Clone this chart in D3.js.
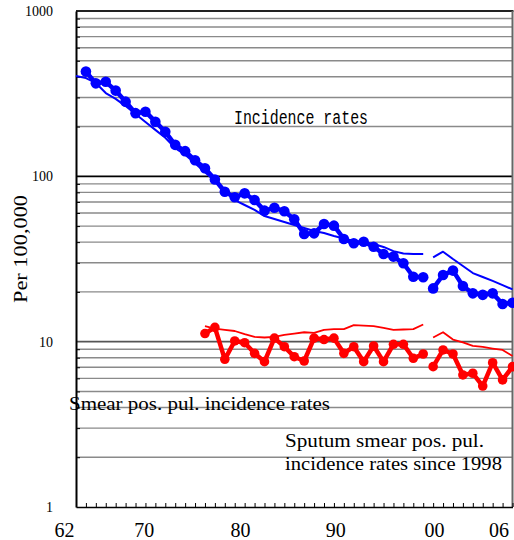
<!DOCTYPE html>
<html><head><meta charset="utf-8">
<script src="https://cdn.jsdelivr.net/npm/d3@7"></script>
<style>body{margin:0;background:#fff}svg{display:block}</style>
</head><body><svg id="c" width="514" height="540"></svg>
<script>
// ---- data ----
const incidenceYears = d3.range(1963, 1998);
const incidence = [430, 365, 373, 330, 283, 241, 246, 214, 186, 155, 142, 125, 112, 95.7, 80.7, 74.7, 78.9, 71.9, 62, 64.5, 61.5, 55, 44.8, 45.2, 51.5, 50.3, 41.8, 39.4, 40.2, 37.5, 33.9, 32.7, 29.8, 24.7, 24.5];
const incidenceTrendYears = d3.range(1962, 1998);
const incidenceTrend = [404, 393, 367, 319, 294, 266, 238, 213, 191, 171, 148, 135, 120, 106, 93.7, 82.7, 71.9, 67.1, 62.6, 57.5, 55.2, 53, 50.8, 48.7, 46.7, 45.4, 43.6, 42.1, 40.6, 39.8, 39, 37.4, 35.3, 34.1, 33.9, 33.9];
const newYears = d3.range(1998, 2007);
const incidenceNew = [21.0, 25.3, 26.9, 21.7, 19.6, 19.2, 19.6, 16.9, 17.2];
const incidenceTrendNew = [32.4, 35, 31.6, 28.7, 26, 24.6, 23.3, 22, 20.7];
const smearYears = d3.range(1975, 1998);
const smear = [11.2, 12.2, 7.82, 10.1, 9.86, 8.5, 7.57, 10.5, 9.32, 8.11, 7.64, 10.5, 10.3, 10.5, 8.5, 9.32, 7.57, 9.42, 7.57, 9.64, 9.64, 7.93, 8.42];
const smearTrend = [12.4, 12.0, 11.8, 11.6, 11.1, 10.7, 10.6, 10.7, 11.0, 11.2, 11.4, 11.3, 11.8, 11.9, 11.9, 12.6, 12.5, 12.4, 12.1, 11.8, 11.85, 11.9, 12.7];
const smearNew = [7.06, 8.91, 8.42, 6.29, 6.44, 5.39, 7.46, 5.87, 7.06];
const smearTrendNew = [10.6, 11.4, 10.3, 9.89, 9.42, 9.29, 9.09, 8.91, 8.19];
const yLabelValues = [1, 10, 100, 1000];
const xLabelYears = [1962, 1970, 1980, 1990, 2000, 2006];
const xLabelText = ["62", "70", "80", "90", "00", "06"];
const xLabelNudge = [-12, -11.5, -14.5, -18.5, -19, -14];

// ---- layout ----
const L = 76, R = 512.5, T = 11, B = 507;
const svg = d3.select("#c");
const x = d3.scaleLinear().domain([1962, 2006]).range([L, R]);
const y = d3.scaleLog().domain([1, 1000]).range([B, T]);

// gridlines
const minorVals = [];
[1, 10, 100].forEach(d => { for (let k = 2; k <= 9; k++) minorVals.push(k * d); });
svg.append("g").selectAll("line").data(minorVals).join("line")
  .attr("x1", L).attr("x2", R).attr("y1", d => y(d)).attr("y2", d => y(d))
  .attr("stroke", "#8a8a8a").attr("stroke-width", 1.4);
svg.append("line").attr("x1", L).attr("x2", R).attr("y1", y(100)).attr("y2", y(100))
  .attr("stroke", "#000").attr("stroke-width", 1.6);
svg.append("line").attr("x1", L).attr("x2", R).attr("y1", y(10)).attr("y2", y(10))
  .attr("stroke", "#555").attr("stroke-width", 1.8);
// frame
svg.append("line").attr("x1", L).attr("x2", R + 1).attr("y1", T).attr("y2", T)
  .attr("stroke", "#222").attr("stroke-width", 2);
svg.append("line").attr("x1", R).attr("x2", R).attr("y1", T).attr("y2", B)
  .attr("stroke", "#666").attr("stroke-width", 2);

// x axis ticks (inside)
const xAxis = svg.append("g").attr("transform", `translate(0,${B})`)
  .call(d3.axisBottom(x).tickValues(d3.range(1962, 2007)).tickSize(-4).tickSizeOuter(0).tickFormat(""));
xAxis.select(".domain").attr("stroke", "#000").attr("stroke-width", 1.6);
xAxis.selectAll(".tick line").attr("stroke", "#000");
// x labels
const xLab = svg.append("g").attr("transform", `translate(0,${B})`)
  .call(d3.axisBottom(x).tickValues(xLabelYears).tickSize(0).tickPadding(16)
    .tickFormat((d, i) => xLabelText[i]));
xLab.select(".domain").remove();
xLab.selectAll("text").attr("font-family", "Liberation Serif, serif").attr("font-size", 20)
  .attr("fill", "#000").attr("dx", (d, i) => xLabelNudge[i]);

// y axis
const yAxis = svg.append("g").attr("transform", `translate(${L},0)`)
  .call(d3.axisLeft(y).tickValues(minorVals).tickSize(-4).tickSizeOuter(0).tickFormat(""));
yAxis.select(".domain").attr("stroke", "#000").attr("stroke-width", 2);
const yLab = svg.append("g").attr("transform", `translate(${L},0)`)
  .call(d3.axisLeft(y).tickValues(yLabelValues).tickSize(0).tickPadding(23).tickFormat(d3.format("d")));
yLab.select(".domain").remove();
yLab.selectAll("text").attr("font-family", "Liberation Serif, serif").attr("font-size", 14).attr("fill", "#000");

svg.append("text").attr("transform", "translate(27,249) rotate(-90)")
  .attr("text-anchor", "middle").attr("font-family", "Liberation Serif, serif")
  .attr("font-size", 19).attr("textLength", 108).attr("lengthAdjust", "spacingAndGlyphs")
  .text("Per 100,000");

// lines
const line = d3.line().x(d => x(d[0])).y(d => y(d[1]));
function series(years, vals, color, w) {
  svg.append("path").datum(years.map((yr, i) => [yr, vals[i]]))
    .attr("d", line).attr("fill", "none").attr("stroke", color)
    .attr("stroke-width", w).attr("stroke-linejoin", "round");
}
function dots(years, vals, color, w, r) {
  series(years, vals, color, w);
  svg.append("g").selectAll("circle").data(years.map((yr, i) => [yr, vals[i]])).join("circle")
    .attr("cx", d => x(d[0])).attr("cy", d => y(d[1])).attr("r", r).attr("fill", color);
}
series(incidenceTrendYears, incidenceTrend, "#0000ff", 2);
series(newYears, incidenceTrendNew, "#0000ff", 2);
dots(incidenceYears, incidence, "#0000ff", 4.5, 5.3);
dots(newYears, incidenceNew, "#0000ff", 4.5, 5.3);
series(smearYears, smearTrend, "#ff0000", 1.8);
series(newYears, smearTrendNew, "#ff0000", 1.8);
dots(smearYears, smear, "#ff0000", 4.5, 4.8);
dots(newYears, smearNew, "#ff0000", 4.5, 4.8);

// annotations
svg.append("text").attr("x", 234).attr("y", 124)
  .attr("font-family", "Liberation Mono, monospace").attr("font-size", 20)
  .attr("textLength", 134).attr("lengthAdjust", "spacingAndGlyphs")
  .text("Incidence rates");
const serif = "Liberation Serif, serif";
svg.append("text").attr("x", 69).attr("y", 410).attr("font-family", serif).attr("font-size", 19)
  .attr("textLength", 261).attr("lengthAdjust", "spacingAndGlyphs")
  .text("Smear pos. pul. incidence rates");
svg.append("text").attr("x", 285).attr("y", 447).attr("font-family", serif).attr("font-size", 19)
  .attr("textLength", 199).attr("lengthAdjust", "spacingAndGlyphs")
  .text("Sputum smear pos. pul.");
svg.append("text").attr("x", 285).attr("y", 470).attr("font-family", serif).attr("font-size", 19)
  .attr("textLength", 217).attr("lengthAdjust", "spacingAndGlyphs")
  .text("incidence rates since 1998");
</script></body></html>
